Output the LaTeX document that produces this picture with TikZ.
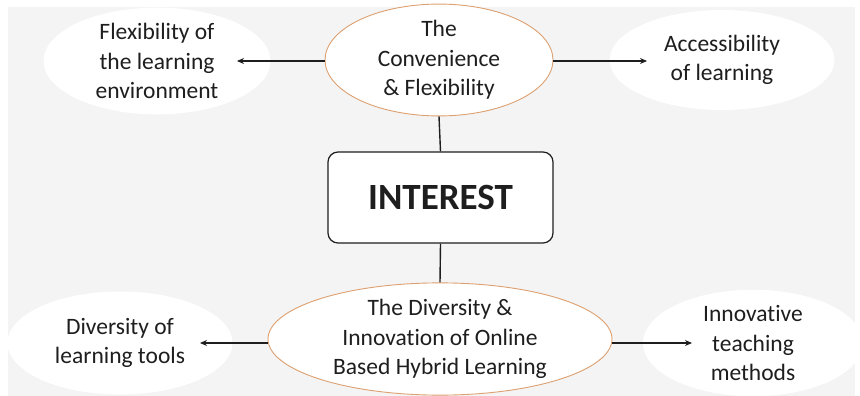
\documentclass[tikz,border=0pt]{standalone}
\usepackage{fontspec}
\setmainfont{Carlito}[Ligatures=NoCommon]
\usetikzlibrary{shapes.geometric,arrows.meta}
\definecolor{bggray}{HTML}{F4F4F4}
\definecolor{orangeline}{HTML}{DDA070}
\definecolor{txt}{HTML}{1E1E1E}
\tikzset{
  softell/.style={ellipse, fill=white, draw=none, inner sep=0pt, align=center,
    font=\fontsize{23.5}{29.5}\selectfont, text=txt},
  mainell/.style={ellipse, fill=white, draw=orangeline, line width=0.9pt, inner sep=0pt, align=center,
    font=\fontsize{23.5}{29.5}\selectfont, text=txt},
  centerbox/.style={rectangle, rounded corners=10pt, draw=txt, line width=1.2pt, fill=white,
    font=\fontsize{37}{42}\selectfont\bfseries, text=txt},
  conn/.style={draw=txt, line width=1.4pt},
  arr/.style={conn, -{Stealth[length=7pt,width=6pt]}}
}
\begin{document}
\begin{tikzpicture}[x=1pt,y=-1pt]
\useasboundingbox (0,0) rectangle (860,396);
\fill[white] (0,0) rectangle (860,396);
\fill[bggray] (8,7) rectangle (855,396);
\node[mainell, minimum width=228pt, minimum height=104pt] (conv) at (439,60) {The\\Convenience\\\& Flexibility};
\node[softell, minimum width=227pt, minimum height=98pt] (flex) at (157,61) {Flexibility of\\the learning\\environment};
\node[softell, minimum width=225pt, minimum height=100pt] (acc) at (722,60) {Accessibility\\of learning};
\node[centerbox, minimum width=225pt, minimum height=91pt] (int) at (440.5,197.5) {INTEREST};
\node[mainell, minimum width=344pt, minimum height=112pt] (div) at (440,339) {The Diversity \&\\Innovation of Online\\Based Hybrid Learning};
\node[softell, minimum width=225pt, minimum height=103pt] (tools) at (120,343) {Diversity of\\learning tools};
\node[softell, minimum width=220pt, minimum height=103pt] (meth) at (753,343) {Innovative\\teaching\\methods};
\coordinate (flexend) at (237,61);
\coordinate (accend) at (647,61);
\coordinate (toolsend) at (200,343);
\coordinate (methend) at (692,343);
\draw[arr] (conv.west |- flexend) -- (flexend);
\draw[arr] (conv.east |- accend) -- (accend);
\draw[conn] (conv.south) -- (int.north);
\draw[conn] (int.south) -- (div.north);
\draw[arr] (div.west |- toolsend) -- (toolsend);
\draw[arr] (div.east |- methend) -- (methend);
\end{tikzpicture}
\end{document}
